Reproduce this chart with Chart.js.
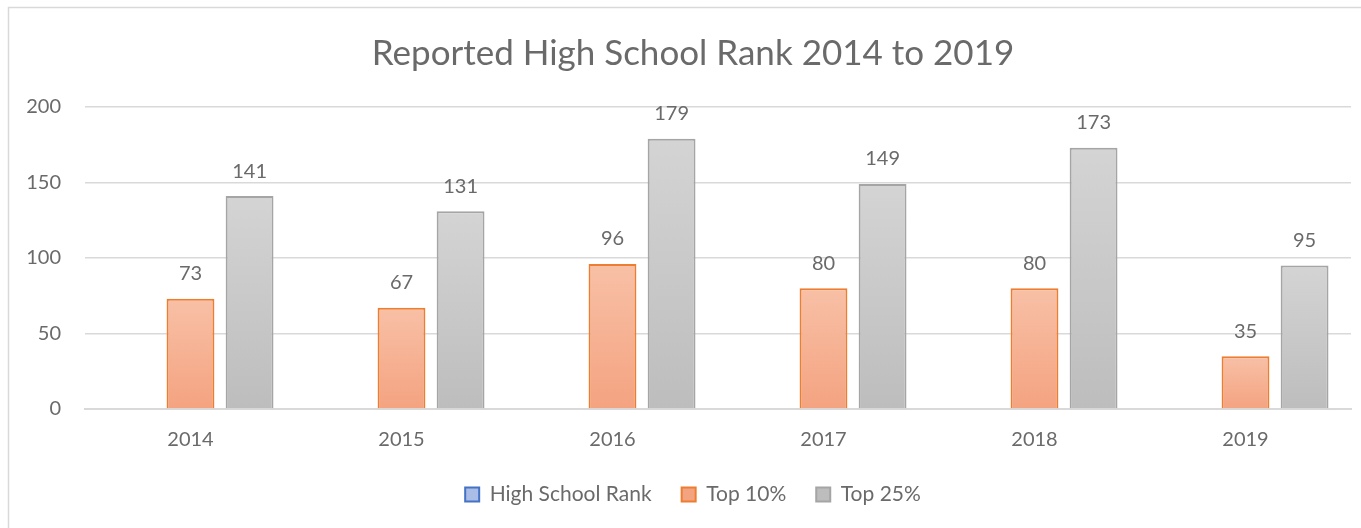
<!DOCTYPE html>
<html>
<head>
<meta charset="utf-8">
<script src="https://cdn.jsdelivr.net/npm/chart.js@4/dist/chart.umd.min.js"></script>
<style>
html,body{margin:0;padding:0;background:#fff;overflow:hidden;}
#wrap{width:1361px;height:528px;position:relative;overflow:hidden;}
#c{position:absolute;left:0;top:0;}
</style>
</head>
<body>
<div id="wrap"><canvas id="c" width="1386" height="528"></canvas></div>
<script>
const titleText = 'Reported High School Rank 2014 to 2019';
const categories = ['2014', '2015', '2016', '2017', '2018', '2019'];
const highSchoolRank = [null, null, null, null, null, null];
const top10 = [73, 67, 96, 80, 80, 35];
const top25 = [141, 131, 179, 149, 173, 95];
const yTicks = [0, 50, 100, 150, 200];

const FONT = 'Lato, "Open Sans", sans-serif';
const TXT = '#6a6a6a';

function barGradient(top, bottom, fallback) {
  return function (ctx) {
    const chart = ctx.chart;
    if (ctx.type !== 'data' || !chart.chartArea || !chart.scales.y) return fallback;
    const v = ctx.raw;
    if (v == null) return fallback;
    const y = chart.scales.y;
    const y0 = y.getPixelForValue(v), y1 = y.getPixelForValue(0);
    if (!isFinite(y0) || !isFinite(y1) || y0 === y1) return fallback;
    const g = chart.ctx.createLinearGradient(0, y0, 0, y1);
    g.addColorStop(0, top);
    g.addColorStop(1, bottom);
    return g;
  };
}

const frame = {
  id: 'frame',
  beforeDraw(chart) {
    const c = chart.ctx;
    c.save();
    c.fillStyle = '#fff';
    c.fillRect(0, 0, chart.width, chart.height);
    c.strokeStyle = '#d9d9d9';
    c.lineWidth = 1.5;
    c.strokeRect(8.5, 7.5, chart.width - 10, chart.height + 20);
    c.restore();
  }
};

const valueLabels = {
  id: 'valueLabels',
  afterDatasetsDraw(chart) {
    const c = chart.ctx;
    c.save();
    c.font = '20px ' + FONT;
    c.fillStyle = TXT;
    c.textAlign = 'center';
    c.textBaseline = 'middle';
    chart.data.datasets.forEach((ds, i) => {
      const meta = chart.getDatasetMeta(i);
      meta.data.forEach((el, j) => {
        const v = ds.data[j];
        if (v == null) return;
        c.fillText(String(v), el.x, el.y - 25);
      });
    });
    c.restore();
  }
};

new Chart(document.getElementById('c'), {
  type: 'bar',
  data: {
    labels: categories,
    datasets: [
      {
        label: 'High School Rank',
        data: highSchoolRank,
        backgroundColor: '#a9bde6',
        borderColor: '#4472c4',
        borderWidth: 2
      },
      {
        label: 'Top 10%',
        data: top10,
        backgroundColor: barGradient('#f8c0a6', '#f4a380', '#f6b293'),
        borderColor: '#ed7d31',
        borderWidth: 2
      },
      {
        label: 'Top 25%',
        data: top25,
        backgroundColor: barGradient('#d4d4d4', '#bdbdbd', '#c9c9c9'),
        borderColor: '#a5a5a5',
        borderWidth: 2
      }
    ]
  },
  options: {
    responsive: false,
    animation: false,
    devicePixelRatio: 1,
    datasets: {
      bar: { categoryPercentage: 0.84, barPercentage: 0.81, borderSkipped: 'bottom' }
    },
    layout: { padding: { left: 0, right: 0, top: 0, bottom: 13 } },
    plugins: {
      title: {
        display: true,
        text: titleText,
        color: TXT,
        font: { family: FONT, size: 35, weight: 'normal' },
        padding: { top: 33, bottom: 32 }
      },
      legend: {
        position: 'bottom',
        labels: {
          color: TXT,
          font: { family: FONT, size: 21 },
          boxWidth: 14,
          boxHeight: 14,
          padding: 30
        }
      },
      tooltip: { enabled: false }
    },
    scales: {
      x: {
        afterFit(s) { s.height = 45; },
        grid: { display: false, drawTicks: false },
        border: { display: true, color: '#d9d9d9', width: 2 },
        ticks: { color: TXT, font: { family: FONT, size: 20 }, padding: 19 }
      },
      y: {
        min: 0,
        max: 200,
        afterFit(s) { s.width = 85; },
        afterBuildTicks(s) { s.ticks = yTicks.map(v => ({ value: v })); },
        grid: { color: '#d9d9d9', lineWidth: 1.5, drawTicks: false },
        border: { display: false },
        ticks: { color: TXT, font: { family: FONT, size: 20 }, padding: 24 }
      },
      spacer: {
        type: 'linear',
        position: 'right',
        afterFit(s) { s.width = 35; },
        grid: { display: false, drawTicks: false },
        border: { display: false },
        ticks: { display: false }
      }
    }
  },
  plugins: [frame, valueLabels]
});
</script>
</body>
</html>
